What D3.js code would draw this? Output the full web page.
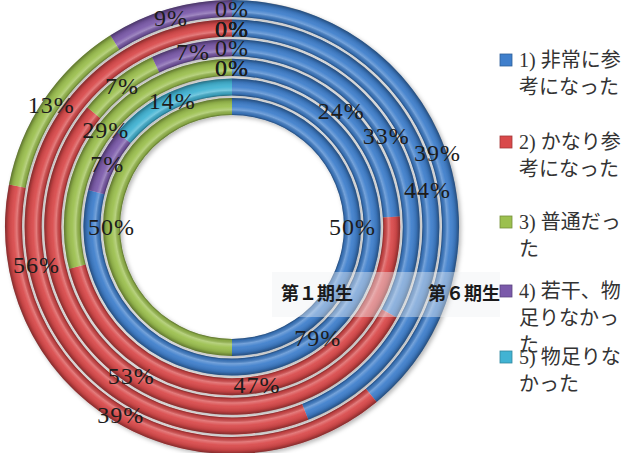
<html>
<head>
<meta charset="utf-8">
<script src="https://d3js.org/d3.v7.min.js"></script>
<style>
  body { margin: 0; background: #fff; }
  svg { display: block; }
</style>
</head>
<body>
<script>

// answer categories (legend order, also slice order clockwise from 12 o'clock)
var categories = ["1) 非常に参考になった", "2) かなり参考になった", "3) 普通だった",
                  "4) 若干、物足りなかった", "5) 物足りなかった"];
// rings, from the inside out
var periods = ["第1期生", "第2期生", "第3期生", "第4期生", "第5期生", "第6期生"];

// percentages per category, one entry per ring (inner -> outer)
var veryHelpful     = [50, 79, 24, 33, 44, 39];
var quiteHelpful    = [0, 0, 47, 53, 56, 39];
var average         = [50, 0, 29, 7, 0, 13];
var slightlyLacking = [0, 7, 0, 7, 0, 9];
var lacking         = [0, 14, 0, 0, 0, 0];

// the two inner rings had their 0% labels removed
var showZeroLabels = [false, false, true, true, true, true];

// ring captions shown on the band
var ringCaptions = ["第１期生", "第６期生"];

var colors = ["#3f7fcc", "#d9494a", "#9cc04f", "#7b5aaa", "#41b3d3"];

var width = 638, height = 453;
var cx = 232, cy = 227;

var series = [veryHelpful, quiteHelpful, average, slightlyLacking, lacking];

var svg = d3.select("body").append("svg")
	.attr("width", width)
	.attr("height", height);

var defs = svg.append("defs");

var shadow = defs.append("filter").attr("id", "shadow")
	.attr("x", "-10%").attr("y", "-10%").attr("width", "120%").attr("height", "120%");
shadow.append("feDropShadow")
	.attr("dx", 2).attr("dy", 2).attr("stdDeviation", 2)
	.attr("flood-color", "#000").attr("flood-opacity", 0.28);

// radius of each ring
var rScale = d3.scaleBand()
	.domain(periods)
	.range([112, 227])
	.paddingInner(0.133);

var pie = d3.pie().sort(null).value(function(d) { return d; });

var g = svg.append("g").attr("transform", "translate(" + cx + "," + cy + ")");
var rings = g.append("g").attr("filter", "url(#shadow)");
var labelLayer = g.append("g");

// shading across the tube of a ring
var shade = [
	[0.00, "#000", 0.38],
	[0.10, "#000", 0.12],
	[0.30, "#fff", 0.28],
	[0.50, "#fff", 0.06],
	[0.80, "#000", 0.12],
	[1.00, "#000", 0.40]
];

periods.forEach(function(p, i) {
	var r0 = rScale(p), r1 = r0 + rScale.bandwidth();
	var values = series.map(function(s) { return s[i]; });
	var arc = d3.arc().innerRadius(r0).outerRadius(r1);
	var slices = pie(values);

	rings.append("g").selectAll("path")
		.data(slices)
		.enter().append("path")
		.attr("d", arc)
		.attr("fill", function(d, j) { return colors[j]; });

	var grad = defs.append("radialGradient")
		.attr("id", "shade" + i)
		.attr("gradientUnits", "userSpaceOnUse")
		.attr("cx", 0).attr("cy", 0).attr("r", r1);
	shade.forEach(function(s) {
		grad.append("stop")
			.attr("offset", r0 / r1 + s[0] * (1 - r0 / r1))
			.attr("stop-color", s[1])
			.attr("stop-opacity", s[2]);
	});
	rings.append("path")
		.attr("d", d3.arc().innerRadius(r0).outerRadius(r1).startAngle(0).endAngle(2 * Math.PI)())
		.attr("fill", "url(#shade" + i + ")");

	labelLayer.append("g").selectAll("text")
		.data(slices.filter(function(d) { return d.value > 0 || showZeroLabels[i]; }))
		.enter().append("text")
		.attr("transform", function(d) { return "translate(" + arc.centroid(d) + ")"; })
		.attr("text-anchor", "middle")
		.attr("dy", "0.35em")
		.style("font-family", "'Liberation Serif', serif")
		.style("font-size", "24px")
		.style("letter-spacing", "1px")
		.style("fill", "#1c1c1c")
		.text(function(d) { return d.value + "%"; });
});

// translucent band with ring captions
svg.append("rect")
	.attr("x", 272).attr("y", 272)
	.attr("width", 228).attr("height", 45)
	.attr("fill", "#eef0f3")
	.attr("fill-opacity", 0.42);

svg.selectAll("text.caption")
	.data(ringCaptions)
	.enter().append("text")
	.attr("class", "caption")
	.attr("x", function(d, i) { return i == 0 ? 353 : 500; })
	.attr("y", 294)
	.attr("dy", "0.35em")
	.attr("text-anchor", "end")
	.style("font-family", "'Noto Sans CJK JP', sans-serif")
	.style("font-weight", "bold")
	.style("font-size", "18px")
	.style("fill", "#1a1a1a")
	.text(function(d) { return d; });

// legend, wrapped as in the original: prefix + 4 chars, then 5 chars per line
function wrap(label) {
	var prefix = label.slice(0, 3), rest = label.slice(3);
	var lines = [prefix + rest.slice(0, 4)];
	rest = rest.slice(4);
	while (rest.length) {
		lines.push(rest.slice(0, 5));
		rest = rest.slice(5);
	}
	return lines;
}

var legendY = [60, 142, 222, 291, 357];
var legend = svg.append("g").selectAll("g")
	.data(categories)
	.enter().append("g")
	.attr("transform", function(d, i) { return "translate(500," + legendY[i] + ")"; });

legend.append("rect")
	.attr("x", 0).attr("y", -6)
	.attr("width", 12).attr("height", 12)
	.attr("fill", function(d, i) { return colors[i]; })
	.attr("stroke", function(d, i) { return d3.color(colors[i]).darker(0.8); })
	.attr("stroke-width", 0.8);

legend.append("text")
	.style("font-family", "'Liberation Serif', 'Noto Sans CJK JP', serif")
	.style("font-size", "20px")
	.style("fill", "#333")
	.selectAll("tspan")
	.data(function(d) { return wrap(d); })
	.enter().append("tspan")
	.attr("x", 19)
	.attr("y", function(d, i) { return i * 27; })
	.attr("dy", "0.35em")
	.text(function(d) { return d; });

</script>
</body>
</html>
